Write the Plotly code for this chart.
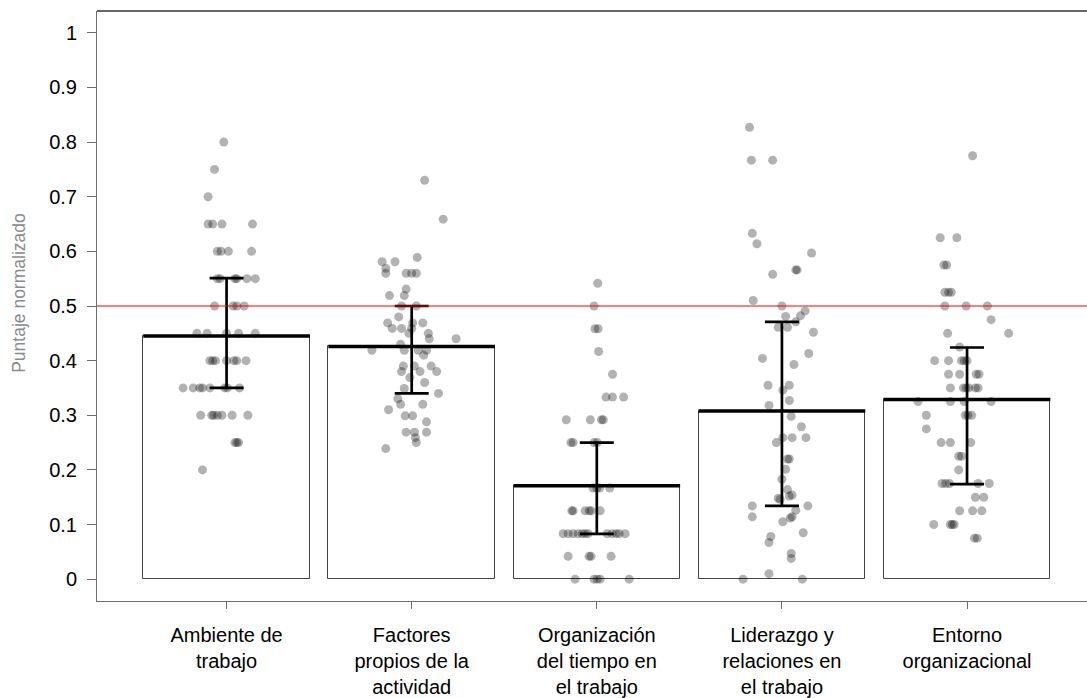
import plotly.graph_objects as go

# ---------------- data ----------------
categories = [
    "Ambiente de<br>trabajo",
    "Factores<br>propios de la<br>actividad",
    "Organización<br>del tiempo en<br>el trabajo",
    "Liderazgo y<br>relaciones en<br>el trabajo",
    "Entorno<br>organizacional",
]

bar_means = [0.445, 0.426, 0.171, 0.308, 0.329]
err_low = [0.350, 0.340, 0.083, 0.134, 0.174]
err_high = [0.551, 0.500, 0.250, 0.471, 0.424]

reference_value = 0.5

y_tick_values = [0, 0.1, 0.2, 0.3, 0.4, 0.5, 0.6, 0.7, 0.8, 0.9, 1]
y_tick_labels = ["0", "0.1", "0.2", "0.3", "0.4", "0.5", "0.6", "0.7", "0.8", "0.9", "1"]

# Ambiente de trabajo
amb_vals = [0.80, 0.75, 0.70,
            0.65, 0.65, 0.65, 0.65,
            0.60, 0.60, 0.60, 0.60,
            0.55, 0.55, 0.55, 0.55, 0.55, 0.55,
            0.50, 0.50, 0.50, 0.50,
            0.45, 0.45, 0.45, 0.45, 0.45,
            0.40, 0.40, 0.40, 0.40, 0.40, 0.40, 0.40,
            0.35, 0.35, 0.35, 0.35, 0.35, 0.35, 0.35, 0.35,
            0.30, 0.30, 0.30, 0.30, 0.30, 0.30, 0.30,
            0.25, 0.25, 0.25,
            0.20]
amb_jit = [-0.015, -0.065, -0.10,
           -0.10, -0.075, -0.025, 0.14,
           -0.05, -0.03, 0.01, 0.135,
           -0.05, -0.035, 0.045, 0.055, 0.11, 0.155,
           -0.065, 0.035, 0.055, 0.095,
           -0.16, -0.105, 0.0, 0.065, 0.155,
           -0.09, -0.075, -0.06, 0.0, 0.04, 0.055, 0.105,
           -0.235, -0.18, -0.145, -0.13, -0.09, -0.01, 0.005, 0.07,
           -0.14, -0.08, -0.07, -0.05, -0.025, 0.03, 0.115,
           0.045, 0.055, 0.065,
           -0.13]

# Factores propios de la actividad
fac_vals = [0.730, 0.659, 0.589, 0.581, 0.581, 0.569, 0.560, 0.560, 0.560, 0.560,
            0.531, 0.519, 0.519, 0.500, 0.500, 0.480, 0.469, 0.469, 0.469, 0.459,
            0.459, 0.459, 0.450, 0.450, 0.440, 0.440, 0.430, 0.419, 0.419, 0.419,
            0.419, 0.410, 0.390, 0.390, 0.390, 0.380, 0.380, 0.380, 0.369, 0.360,
            0.349, 0.340, 0.330, 0.320, 0.320, 0.310, 0.299, 0.299, 0.288, 0.269,
            0.269, 0.269, 0.259, 0.250, 0.239]
fac_jit = [0.07, 0.17, 0.03, -0.16, -0.09, -0.14, -0.14, -0.03, 0.0, 0.025,
           -0.03, -0.12, -0.04, 0.025, -0.055, -0.07, -0.13, 0.005, 0.06, -0.105,
           -0.055, 0.0, -0.015, 0.09, 0.095, 0.24, -0.06, -0.215, -0.04, 0.035,
           0.08, 0.065, -0.045, 0.015, 0.105, -0.055, 0.045, 0.135, -0.01, 0.07,
           -0.04, 0.145, -0.075, -0.06, 0.06, -0.125, -0.035, 0.005, 0.08, -0.03,
           0.015, 0.08, 0.02, 0.025, -0.14]

# Organización del tiempo en el trabajo
org_vals = [0.5417, 0.5, 0.4583, 0.4583, 0.4167, 0.375,
            0.3333, 0.3333, 0.3333,
            0.2917, 0.2917, 0.2917, 0.2917,
            0.25, 0.25, 0.25, 0.25,
            0.1667, 0.1667, 0.1667, 0.1667,
            0.125, 0.125, 0.125, 0.125, 0.125, 0.125,
            0.0833, 0.0833, 0.0833, 0.0833, 0.0833, 0.0833,
            0.0833, 0.0833, 0.0833, 0.0833, 0.0833, 0.0833,
            0.0417, 0.0417, 0.0417, 0.0417,
            0.0, 0.0, 0.0, 0.0, 0.0]
org_jit = [0.005, -0.015, -0.01, 0.007, 0.01, 0.085,
           0.05, 0.085, 0.145,
           -0.165, -0.035, 0.025, 0.035,
           -0.14, -0.128, -0.015, 0.002,
           -0.02, 0.0, 0.015, 0.07,
           -0.135, -0.128, -0.063, -0.041, -0.03, 0.018,
           -0.182, -0.155, -0.128, -0.101, -0.079, -0.063,
           -0.047, 0.056, 0.083, 0.105, 0.121, 0.153,
           -0.155, -0.042, -0.031, 0.077,
           -0.117, -0.015, 0.002, 0.018, 0.175]

# Liderazgo y relaciones en el trabajo
lid_vals = [0.827, 0.767, 0.767, 0.633, 0.614, 0.597, 0.566, 0.566, 0.558, 0.510,
            0.500, 0.491, 0.482, 0.481, 0.461, 0.461, 0.471, 0.452, 0.413, 0.404,
            0.393, 0.355, 0.355, 0.346, 0.327, 0.318, 0.298, 0.279, 0.250, 0.259,
            0.259, 0.259, 0.220, 0.220, 0.201, 0.183, 0.164, 0.154, 0.152, 0.146,
            0.148, 0.126, 0.134, 0.134, 0.114, 0.114, 0.112, 0.105, 0.085, 0.078,
            0.067, 0.047, 0.038, 0.010, 0.000, 0.000]
lid_jit = [-0.175, -0.165, -0.05, -0.16, -0.135, 0.16, 0.075, 0.082, -0.05, -0.155,
           0.0, 0.125, 0.1, 0.02, -0.02, 0.03, 0.075, 0.17, 0.145, -0.105,
           0.065, -0.075, 0.04, 0.005, 0.04, -0.07, 0.05, 0.105, -0.03, 0.005,
           0.055, 0.13, 0.03, 0.04, 0.02, 0.0, 0.03, 0.055, 0.04, -0.01,
           -0.02, 0.075, -0.16, 0.14, -0.16, 0.055, 0.045, 0.005, 0.115, -0.06,
           -0.07, 0.05, 0.05, -0.07, -0.21, 0.11]

# Entorno organizacional
ent_vals = [0.775,
            0.625, 0.625,
            0.575, 0.575,
            0.525, 0.525, 0.525,
            0.5, 0.5, 0.5,
            0.475,
            0.45, 0.45,
            0.425,
            0.4, 0.4, 0.4, 0.4, 0.4,
            0.375, 0.375, 0.375, 0.375,
            0.35, 0.35, 0.35, 0.35, 0.35, 0.35,
            0.325, 0.325, 0.325, 0.325,
            0.3, 0.3, 0.3, 0.3,
            0.275,
            0.25, 0.25, 0.25,
            0.225, 0.225,
            0.2,
            0.175, 0.175, 0.175, 0.175, 0.175,
            0.15, 0.15,
            0.125, 0.125, 0.125,
            0.1, 0.1, 0.1, 0.1,
            0.075, 0.075]
ent_jit = [0.03,
           -0.145, -0.055,
           -0.125, -0.11,
           -0.12, -0.1, -0.085,
           -0.12, -0.005, 0.11,
           0.13,
           -0.105, 0.225,
           -0.04,
           -0.175, -0.1, -0.03, -0.015, 0.0,
           -0.1, -0.04, 0.05, 0.065,
           -0.09, -0.02, -0.005, 0.01, 0.045, 0.06,
           -0.265, -0.09, -0.015, 0.13,
           -0.22, -0.01, 0.005, 0.025,
           -0.22,
           -0.14, -0.09, 0.02,
           -0.045, -0.03,
           -0.045,
           -0.135, -0.115, -0.095, 0.06, 0.12,
           0.045, 0.09,
           -0.04, 0.03, 0.08,
           -0.18, -0.09, -0.08, -0.07,
           0.04, 0.055]

point_values = [amb_vals, fac_vals, org_vals, lid_vals, ent_vals]
point_jitter = [amb_jit, fac_jit, org_jit, lid_jit, ent_jit]

# ---------------- styling ----------------
FONT = "Liberation Sans, Arial, sans-serif"
BAR_WIDTH = 0.9
AXIS_COLOR = "#6e6e6e"

positions = list(range(len(categories)))

fig = go.Figure()

# bars (white fill, thin outline)
fig.add_trace(go.Bar(
    x=positions, y=bar_means, width=BAR_WIDTH,
    marker=dict(color="white", line=dict(color="#444444", width=1)),
    hoverinfo="skip", showlegend=False,
))

# jittered points
for i, (vals, jit) in enumerate(zip(point_values, point_jitter)):
    fig.add_trace(go.Scatter(
        x=[i + j for j in jit], y=vals, mode="markers",
        marker=dict(size=9, color="rgba(0,0,0,0.30)", line=dict(width=0)),
        hoverinfo="skip", showlegend=False, cliponaxis=False,
    ))

# thick mean line on top of each bar
mx, my = [], []
for i, m in enumerate(bar_means):
    mx += [i - BAR_WIDTH / 2, i + BAR_WIDTH / 2, None]
    my += [m, m, None]
fig.add_trace(go.Scatter(
    x=mx, y=my, mode="lines", line=dict(color="black", width=3.5),
    hoverinfo="skip", showlegend=False,
))

# error bars
fig.add_trace(go.Scatter(
    x=positions, y=bar_means, mode="markers",
    marker=dict(size=1, opacity=0),
    error_y=dict(type="data", symmetric=False,
                 array=[h - m for h, m in zip(err_high, bar_means)],
                 arrayminus=[m - l for m, l in zip(bar_means, err_low)],
                 color="black", thickness=2.7, width=17),
    hoverinfo="skip", showlegend=False,
))

# reference line and top border
fig.add_shape(type="line", xref="paper", x0=0, x1=1, yref="y",
              y0=reference_value, y1=reference_value,
              line=dict(color="#ff0000", width=1.2), layer="above")
fig.add_shape(type="line", xref="paper", x0=0, x1=1, yref="paper", y0=1, y1=1,
              line=dict(color="#333333", width=1.3), layer="above")

fig.add_annotation(text="Puntaje normalizado", textangle=-90,
                   xref="paper", yref="paper", x=-0.079, y=0.522,
                   showarrow=False, xanchor="center", yanchor="middle",
                   font=dict(family=FONT, size=17.5, color="#8a8a8a"))

fig.update_layout(
    width=1087, height=698,
    margin=dict(l=97, r=0, t=11, b=97),
    paper_bgcolor="white", plot_bgcolor="white",
    font=dict(family=FONT, size=20, color="black"),
    showlegend=False,
    bargap=0,
)
fig.update_xaxes(
    range=[-0.70, 4.648], tickmode="array", tickvals=positions, ticktext=categories,
    showline=True, linecolor=AXIS_COLOR, linewidth=1,
    ticks="outside", ticklen=7, tickcolor=AXIS_COLOR, tickwidth=1,
    showgrid=False, zeroline=False,
    tickfont=dict(family=FONT, size=20, color="black"),
    ticklabelstandoff=9,
)
fig.update_yaxes(
    range=[-0.04, 1.04], tickmode="array", tickvals=y_tick_values, ticktext=y_tick_labels,
    showline=True, linecolor=AXIS_COLOR, linewidth=1,
    ticks="outside", ticklen=9, tickcolor=AXIS_COLOR, tickwidth=1,
    showgrid=False, zeroline=False,
    tickfont=dict(family=FONT, size=20, color="black"),
    ticklabelstandoff=6,
)

fig.write_html("out.html")
